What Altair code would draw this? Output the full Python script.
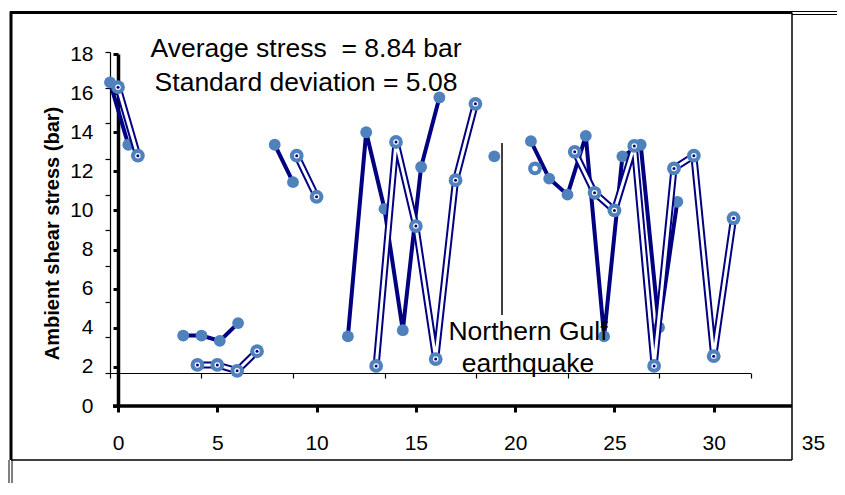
import altair as alt
import pandas as pd

# ---------------- data ----------------
days = [0, 1, 4, 5, 6, 7, 9, 10, 13, 14, 15, 16, 17, 18, 21,
        23, 24, 25, 26, 27, 28, 29, 30, 31]
stress = [16.3, 12.8, 2.1, 2.1, 1.8, 2.8, 12.8, 10.7, 2.05, 13.5, 9.2, 2.4,
          11.55, 15.45, 12.15, 13.0, 10.9, 10.0, 13.3, 2.05, 12.15, 12.8, 2.55, 9.6]
x_ticks = [0, 5, 10, 15, 20, 25, 30, 35]
y_ticks = [0, 2, 4, 6, 8, 10, 12, 14, 16, 18]
stats_lines = ["Average stress \u00a0= 8.84 bar", "Standard deviation = 5.08"]
event_lines = ["Northern Gulf", "earthquake"]
y_title = "Ambient shear stress (bar)"

# ---------------- derived helpers ----------------
seg, s = [], 0
for i, d in enumerate(days):
    if i > 0 and d - days[i - 1] != 1:
        s += 1
    seg.append(s)
connected = [((d - 1) in days) or ((d + 1) in days) for d in days]
df = pd.DataFrame({"day": days, "stress": stress, "seg": seg, "connected": connected})

NAVY = "#000080"
BLUE = "#4F81BD"
FONT = "Liberation Sans"
W, H = 695, 352

# ---------------- underlying (thin-axis) chart ----------------
thin_x = alt.X("day:Q",
               scale=alt.Scale(domain=[0, 35], range=[-8, 632.5], nice=False, zero=False),
               axis=alt.Axis(orient="bottom", offset=-33, values=x_ticks, labels=False,
                             title=None, grid=False, tickSize=5, tickWidth=1.2,
                             tickColor="black", domainColor="black", domainWidth=1.2))
thin_y = alt.Y("stress:Q",
               scale=alt.Scale(domain=[0, 18], range=[319, -2], nice=False),
               axis=alt.Axis(orient="left", offset=8, values=y_ticks, labels=False,
                             title=None, grid=False, tickSize=5, tickWidth=1.2,
                             tickColor="black", domainColor="black", domainWidth=1.2))
thin_base = alt.Chart(df).encode(x=thin_x, y=thin_y)
thin = alt.layer(
    thin_base.mark_line(color=NAVY, strokeWidth=4).encode(detail="seg:N"),
    thin_base.mark_circle(size=140, color=BLUE, opacity=1),
)

# ---------------- overlay (thick-axis) chart ----------------
thick_x = alt.X("day:Q",
                scale=alt.Scale(domain=[0, 35], nice=False, zero=False),
                axis=alt.Axis(orient="bottom", values=x_ticks, domain=False, grid=False,
                              title=None, tickSize=6, tickWidth=3,
                              tickColor={"condition": {"test": "datum.value == 35",
                                                       "value": "transparent"},
                                         "value": "black"},
                              labelFontSize=21, labelPadding=20, labelFlush=False,
                              labelOverlap=False, labelColor="black"))
thick_y = alt.Y("stress:Q",
                scale=alt.Scale(domain=[0, 18], nice=False),
                axis=alt.Axis(orient="left", values=y_ticks, grid=False,
                              domainColor="black", domainWidth=3.5,
                              tickSize=5, tickWidth=3, tickColor="black",
                              labelFontSize=21, labelPadding=20, labelFlush=False,
                              labelOverlap=False, labelColor="black",
                              title=y_title, titleFontSize=20, titleFontWeight="bold",
                              titleColor="black", titleAngle=270, titleAlign="center",
                              titleBaseline="middle", titleX=-66, titleY=179))
thick_base = alt.Chart(df).encode(x=thick_x, y=thick_y)
thick = alt.layer(
    thick_base.mark_line(color=NAVY, strokeWidth=7).encode(detail="seg:N"),
    thick_base.mark_line(color="white", strokeWidth=3).encode(detail="seg:N"),
    thick_base.mark_circle(size=190, color=BLUE, opacity=1),
    thick_base.mark_circle(size=30, color="white", opacity=1),
    thick_base.mark_circle(size=9, color=NAVY, opacity=1).transform_filter("datum.connected"),
)

# ---------------- decorations: frame, axis line, event marker ----------------
one = pd.DataFrame({"k": [0]})
frame = [
    # (x1, x2, y1, y2, width)
    (-5, 674, H, H, 3.5),          # main x axis line
    (-108, 674, -41.5, -41.5, 3),  # top border
    (-107, -107, -42.5, 406, 3),   # left border
    (674, 674, -41.5, 406, 1.5),   # right border
    (-107, 674, 406, 406, 1.5),    # bottom border
    (674, 720, -42.5, -42.5, 1),   # top extension (double)
    (674, 720, -39.5, -39.5, 1),
    (-109, -109, 406, 430, 1),     # left extension (double)
    (-106, -106, 406, 430, 1),
    (384, 384, 89, 261, 1.5),      # earthquake marker line
]
decos = [
    alt.Chart(one).mark_rule(color="black", strokeWidth=w).encode(
        x=alt.value(x1), x2=alt.value(x2), y=alt.value(y1), y2=alt.value(y2))
    for (x1, x2, y1, y2, w) in frame
]

labels = [
    (stats_lines[0], 188, 3),
    (stats_lines[1], 188, 37),
    (event_lines[0], 410, 286),
    (event_lines[1], 410, 318),
]
texts = [
    alt.Chart(one).mark_text(text=t, font=FONT, fontSize=26.5, color="black",
                             align="center", baseline="alphabetic").encode(
        x=alt.value(x), y=alt.value(y))
    for (t, x, y) in labels
]

chart = (
    alt.layer(thin, thick, *decos, *texts)
    .resolve_scale(x="independent", y="independent")
    .properties(width=W, height=H,
                autosize=alt.AutoSizeParams(type="none"),
                padding={"left": 110, "top": 46, "right": 24, "bottom": 77},
                background="white")
    .configure_view(stroke=None)
    .configure_axis(labelFont=FONT, titleFont=FONT)
)

chart.save("out.html", embed_options={"renderer": "svg", "actions": False})
